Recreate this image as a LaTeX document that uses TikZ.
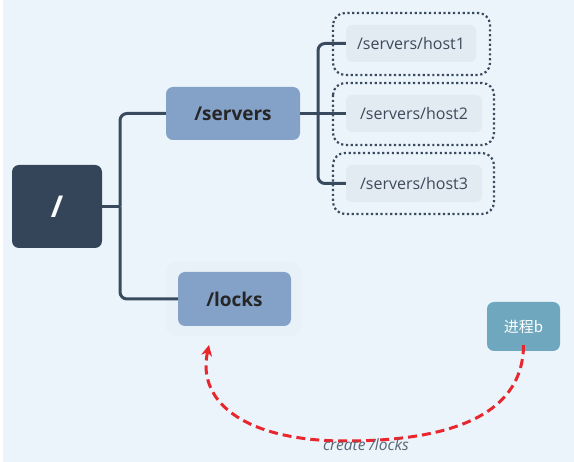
\documentclass[tikz,border=0pt]{standalone}
\usepackage{fontspec}
\setmainfont{Open Sans}
\newfontfamily\cjk{Noto Sans CJK SC}
\usetikzlibrary{arrows.meta}
\definecolor{bg}{HTML}{EBF4FA}
\definecolor{rootc}{HTML}{34455A}
\definecolor{secc}{HTML}{84A2C8}
\definecolor{hostc}{HTML}{E2EAF2}
\definecolor{hosttxt}{HTML}{3D4A5B}
\definecolor{linec}{HTML}{3A4A5E}
\definecolor{procc}{HTML}{6FA8BE}
\definecolor{redc}{HTML}{E8262E}
\definecolor{halo}{HTML}{E8F1F8}
\tikzset{
  rootbox/.style={fill=rootc, rounded corners=7pt, minimum width=90pt, minimum height=83pt, inner sep=0pt, text=white, font=\fontsize{30}{32}\selectfont\bfseries},
  secbox/.style={fill=secc, rounded corners=7pt, inner sep=0pt, text=black!85, font=\fontsize{19}{21}\selectfont\bfseries},
  hostbox/.style={fill=hostc, rounded corners=6pt, minimum height=37pt, inner sep=0pt, text=hosttxt, font=\fontsize{16}{18}\selectfont},
  dotbox/.style={draw=linec, line width=2.2pt, dash pattern=on 2.2pt off 2.6pt, rounded corners=12pt},
  procbox/.style={fill=procc, rounded corners=7pt, minimum width=73pt, minimum height=49pt, inner sep=0pt, text=white, font=\fontsize{15}{17}\selectfont},
  conn/.style={draw=linec, line width=3pt, rounded corners=7pt},
  redarrow/.style={draw=redc, line width=3pt, dash pattern=on 9pt off 5pt, -{Stealth[length=11pt,width=11pt]}},
  lbl/.style={text=hosttxt!85, font=\fontsize{15.5}{17}\selectfont\itshape}
}
\begin{document}
\begin{tikzpicture}[x=1pt,y=-1pt]
\useasboundingbox (0,0) rectangle (574,462);
\fill[white] (0,0) rectangle (574,462);
\fill[bg] (3,0) rectangle (574,462);
% halo around locks
\fill[halo, rounded corners=10pt] (166,262) rectangle (301,336);
% nodes
\node[rootbox] (root) at (57,206.5) {/};
\node[secbox, minimum width=134pt, minimum height=53pt] (servers) at (233,113.5) {/servers};
\node[secbox, minimum width=113pt, minimum height=54pt] (locks) at (234.5,299) {/locks};
\node[hostbox, minimum width=130pt] (h1) at (411,43.5) {/servers/host1};
\node[hostbox, minimum width=136pt] (h2) at (414,113.5) {/servers/host2};
\node[hostbox, minimum width=136pt] (h3) at (414,183.5) {/servers/host3};
\node[procbox] (proc) at (523.5,326.5) {\cjk 进程b};
% dotted frames
\draw[dotbox] (333,13) rectangle (490,75);
\draw[dotbox] (333,83) rectangle (494,145);
\draw[dotbox] (333,153) rectangle (494,214);
% connectors
\coordinate (jr) at (120,206.5);
\draw[conn] (root.east) -- (jr);
\draw[conn] (jr) |- (servers.west);
\draw[conn] (jr) |- (locks.west);
\coordinate (js) at (318,113.5);
\draw[conn] (servers.east) -- (js) -- (h2.west);
\draw[conn] (js) |- (h1.west);
\draw[conn] (js) |- (h3.west);
% red arrow
\coordinate (tip) at (209,345);
\draw[redarrow] ([yshift=6pt]proc.south) .. controls (523,420) and (440,441) .. (345,441) .. controls (250,441) and (196,405) .. (tip);
\node[lbl] (lab) at (366,445) {create /locks};
\end{tikzpicture}
\end{document}
